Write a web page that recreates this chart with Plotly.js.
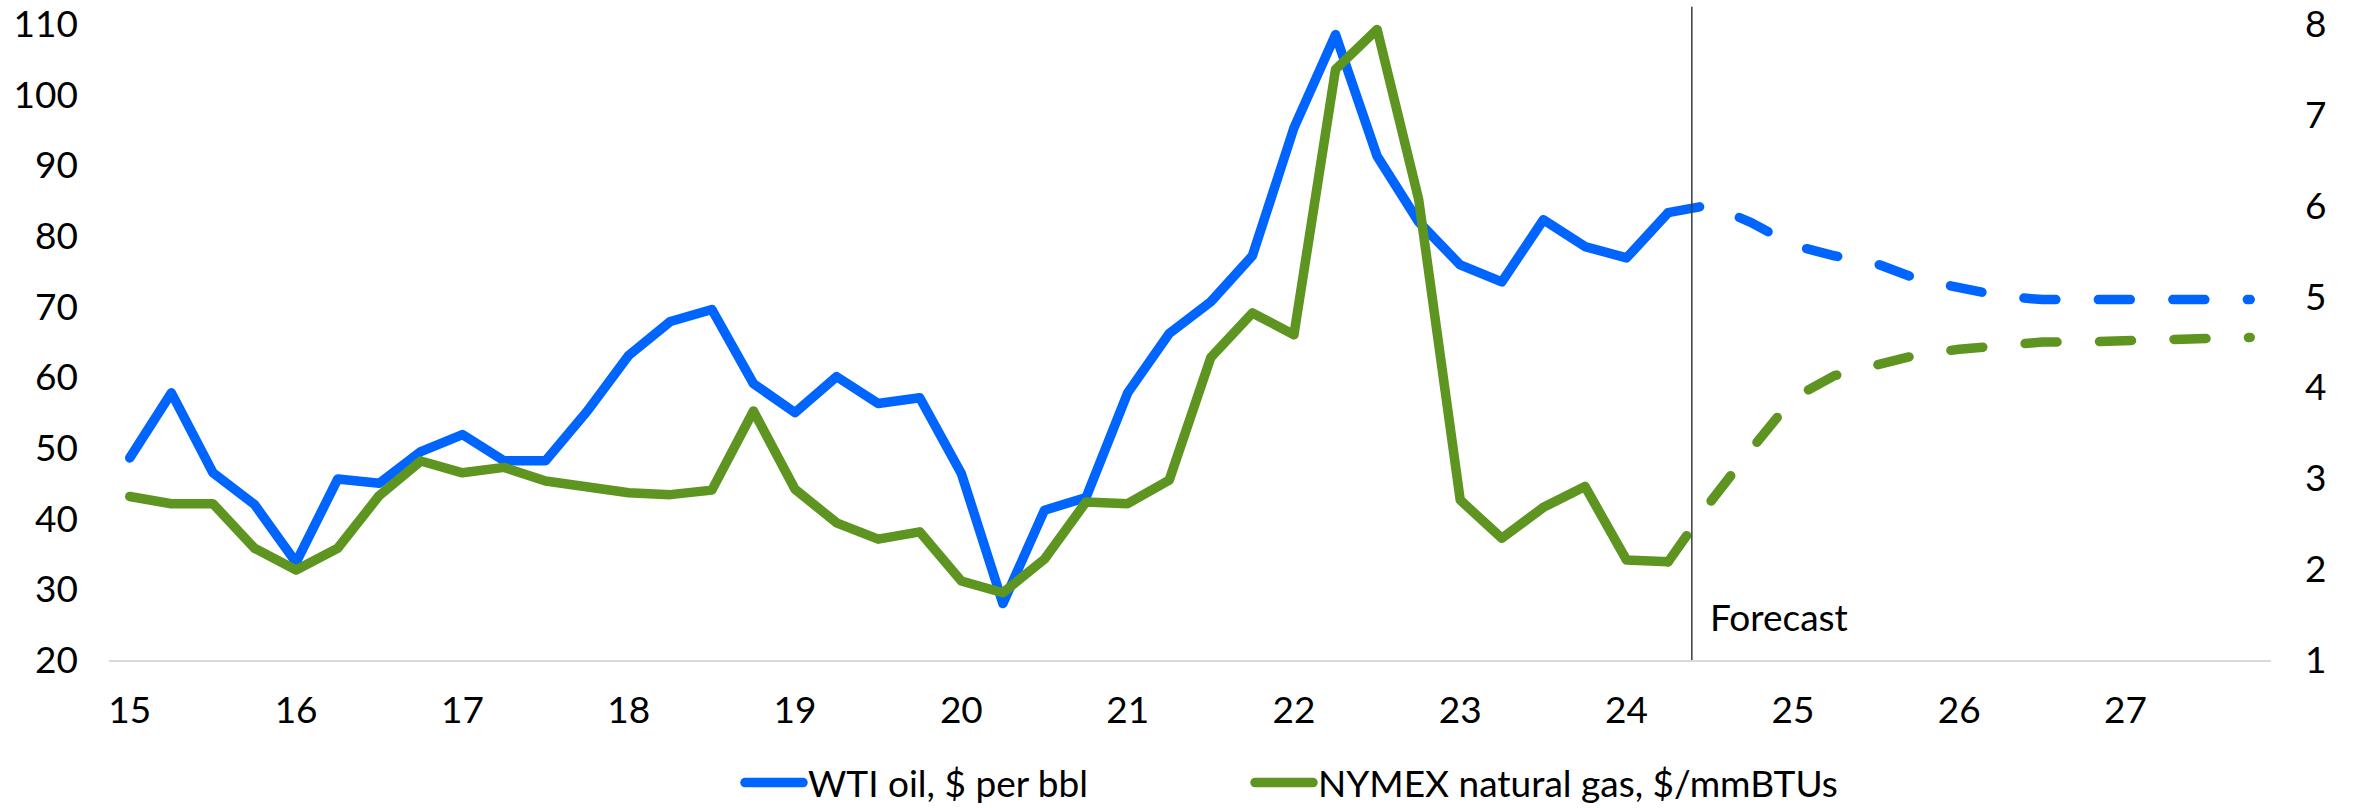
<!DOCTYPE html>
<html>
<head>
<meta charset="utf-8">
<script src="https://cdn.plot.ly/plotly-3.0.1.min.js"></script>
<style>
  html, body { margin: 0; padding: 0; background: #fff; }
  #chart { width: 2356px; height: 808px; }
  .js-line { stroke-linecap: round !important; stroke-linejoin: round !important; }
</style>
</head>
<body>
<div id="chart"></div>
<script>
// Quarterly categories 2015Q1 .. 2027Q4
const quarters = [
  '2015Q1','2015Q2','2015Q3','2015Q4','2016Q1','2016Q2','2016Q3','2016Q4',
  '2017Q1','2017Q2','2017Q3','2017Q4','2018Q1','2018Q2','2018Q3','2018Q4',
  '2019Q1','2019Q2','2019Q3','2019Q4','2020Q1','2020Q2','2020Q3','2020Q4',
  '2021Q1','2021Q2','2021Q3','2021Q4','2022Q1','2022Q2','2022Q3','2022Q4',
  '2023Q1','2023Q2','2023Q3','2023Q4','2024Q1','2024Q2','2024Q3','2024Q4',
  '2025Q1','2025Q2','2025Q3','2025Q4','2026Q1','2026Q2','2026Q3','2026Q4',
  '2027Q1','2027Q2','2027Q3','2027Q4'
];
const tickQuarters = ['2015Q1','2016Q1','2017Q1','2018Q1','2019Q1','2020Q1','2021Q1',
  '2022Q1','2023Q1','2024Q1','2025Q1','2026Q1','2027Q1'];
const tickLabels = ['15','16','17','18','19','20','21','22','23','24','25','26','27'];
const leftTicks = [20, 30, 40, 50, 60, 70, 80, 90, 100, 110];
const rightTicks = [1, 2, 3, 4, 5, 6, 7, 8];

// WTI oil, $ per bbl (left axis) - actual 2015Q1..2024Q2
const wtiActual = [48.6, 57.8, 46.5, 42.0, 33.8, 45.6, 45.0, 49.5, 51.9, 48.2, 48.2, 55.2,
  63.1, 67.9, 69.6, 59.1, 55.0, 60.1, 56.3, 57.1, 46.4, 28.0, 41.2, 43.0,
  57.8, 66.2, 70.7, 77.2, 95.3, 108.5, 91.3, 82.0, 75.9, 73.5, 82.3, 78.5, 76.9, 83.3];
// WTI forecast 2024Q2..2027Q4
const wtiForecast = [83.3, 84.4, 81.9, 78.7, 77.2, 76.1, 73.9, 72.6, 71.5, 71.0, 71.0, 71.0, 71.0, 71.0, 71.0];

// NYMEX natural gas, $/mmBTUs (right axis) - actual 2015Q1..2024Q2
const gasActual = [2.80, 2.72, 2.72, 2.23, 1.99, 2.23, 2.81, 3.19, 3.06, 3.12, 2.97, 2.91,
  2.84, 2.82, 2.87, 3.74, 2.88, 2.51, 2.33, 2.41, 1.87, 1.74, 2.11, 2.74,
  2.72, 2.98, 4.33, 4.82, 4.58, 7.50, 7.94, 6.07, 2.76, 2.34, 2.68, 2.91, 2.10, 2.08];
// Gas forecast 2024Q2..2027Q4
const gasForecast = [2.08, 2.73, 3.32, 3.88, 4.13, 4.24, 4.36, 4.42, 4.47, 4.50, 4.50, 4.52, 4.52, 4.54, 4.55];

const nActual = wtiActual.length;               // 38
const forecastX = quarters.slice(nActual - 1);  // starts at last actual quarter
const actualX = quarters.slice(0, nActual);

const BLUE = '#0064FF';
const GREEN = '#5E9420';
const LW = 9.5;
const DASH = '32px,42.5px';
const FONT = 'Lato, "Open Sans", sans-serif';
const TICKFONT = { family: FONT, size: 37, color: '#000000' };
const TEXTFONT = { family: FONT, size: 37, color: '#000000' };

const traces = [
  { x: actualX, y: wtiActual, type: 'scatter', mode: 'lines', name: 'WTI oil, $ per bbl',
    line: { color: BLUE, width: LW }, yaxis: 'y', hoverinfo: 'skip', legend: 'legend' },
  { x: forecastX, y: wtiForecast, type: 'scatter', mode: 'lines', showlegend: false,
    line: { color: BLUE, width: LW, dash: DASH }, yaxis: 'y', hoverinfo: 'skip' },
  { x: actualX, y: gasActual, type: 'scatter', mode: 'lines', name: 'NYMEX natural gas, $/mmBTUs',
    line: { color: GREEN, width: LW }, yaxis: 'y2', hoverinfo: 'skip', legend: 'legend2' },
  { x: forecastX, y: gasForecast, type: 'scatter', mode: 'lines', showlegend: false,
    line: { color: GREEN, width: LW, dash: DASH }, yaxis: 'y2', hoverinfo: 'skip' }
];

const forecastLineX = 37.57;

function legendAt(px) {
  return {
    orientation: 'h', xref: 'container', yref: 'container',
    x: px / 2356, y: 1 - 783 / 808, xanchor: 'left', yanchor: 'middle',
    font: TEXTFONT, itemwidth: 58, bgcolor: 'rgba(0,0,0,0)',
    itemclick: false, itemdoubleclick: false
  };
}

const layout = {
  width: 2356, height: 808,
  margin: { l: 109, r: 85, t: 24, b: 148, pad: 0 },
  paper_bgcolor: '#ffffff', plot_bgcolor: '#ffffff',
  font: TEXTFONT,
  showlegend: true,
  xaxis: {
    type: 'category', categoryorder: 'array', categoryarray: quarters,
    range: [-0.5, quarters.length - 0.5],
    tickmode: 'array', tickvals: tickQuarters, ticktext: tickLabels,
    showgrid: false, zeroline: false,
    showline: true, linecolor: '#d9d9d9', linewidth: 2,
    ticks: '', ticklabelstandoff: 17, ticklabeloverflow: 'allow',
    tickfont: TICKFONT, fixedrange: true
  },
  yaxis: {
    range: [20, 110], tickmode: 'array', tickvals: leftTicks,
    showgrid: false, zeroline: false, showline: false, ticks: '',
    ticklabelstandoff: 30, ticklabeloverflow: 'allow',
    tickfont: TICKFONT, fixedrange: true
  },
  yaxis2: {
    range: [1, 8], tickmode: 'array', tickvals: rightTicks,
    overlaying: 'y', side: 'right',
    showgrid: false, zeroline: false, showline: false, ticks: '',
    ticklabelstandoff: 33, ticklabeloverflow: 'allow',
    tickfont: TICKFONT, fixedrange: true
  },
  legend: legendAt(740),
  legend2: legendAt(1250),
  shapes: [{
    type: 'line', xref: 'x', yref: 'paper',
    x0: forecastLineX, x1: forecastLineX, y0: 0, y1: 1.027,
    line: { color: '#3a3a3a', width: 1.5 }
  }],
  annotations: [{
    text: 'Forecast', xref: 'x', yref: 'y', x: forecastLineX, y: 26.1,
    xanchor: 'left', yanchor: 'middle', xshift: 16, showarrow: false,
    font: TEXTFONT
  }]
};

Plotly.newPlot('chart', traces, layout, { staticPlot: true, displayModeBar: false });
</script>
</body>
</html>
